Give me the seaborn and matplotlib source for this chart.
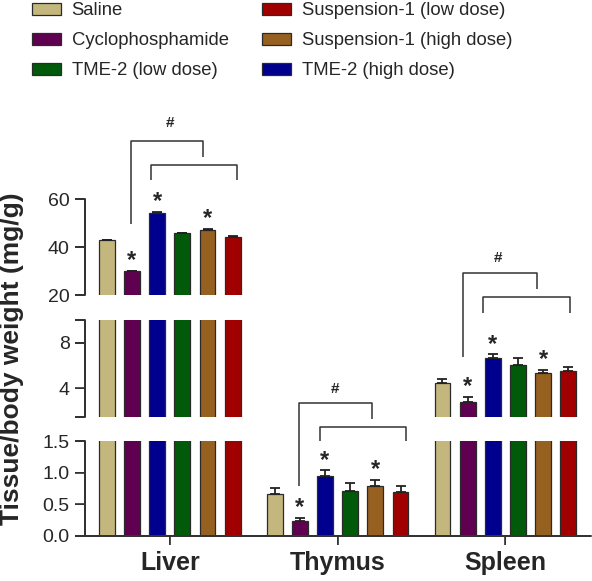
import matplotlib
matplotlib.use("Agg")
import matplotlib.pyplot as plt
import matplotlib.patches as mpatches
import seaborn as sns
import pandas as pd
import numpy as np

sns.set_style("ticks")
plt.rcParams['font.family'] = ['Liberation Sans', 'DejaVu Sans']

organs = ["Liver", "Thymus", "Spleen"]
groups = ["Saline", "Cyclophosphamide", "TME-2 (high dose)", "TME-2 (low dose)",
          "Suspension-1 (high dose)", "Suspension-1 (low dose)"]
colors = ["#C4B77E", "#5F0050", "#00008F", "#005A0A", "#966020", "#A00000"]
legend_order = ["Saline", "Cyclophosphamide", "TME-2 (low dose)",
                "Suspension-1 (low dose)", "Suspension-1 (high dose)", "TME-2 (high dose)"]

liver_mean = [42.8, 29.8, 54.3, 45.7, 47.2, 44.3]
liver_err = [0.3, 0.4, 0.3, 0.3, 0.3, 0.3]
thymus_mean = [0.66, 0.23, 0.95, 0.71, 0.79, 0.69]
thymus_err = [0.10, 0.06, 0.09, 0.12, 0.10, 0.10]
spleen_mean = [4.49, 2.82, 6.63, 6.10, 5.34, 5.52]
spleen_err = [0.30, 0.44, 0.35, 0.55, 0.30, 0.35]
significant = ["Cyclophosphamide", "TME-2 (high dose)", "Suspension-1 (high dose)"]

means = {"Liver": liver_mean, "Thymus": thymus_mean, "Spleen": spleen_mean}
errs = {"Liver": liver_err, "Thymus": thymus_err, "Spleen": spleen_err}

rows = []
for o in organs:
    for g, m, e in zip(groups, means[o], errs[o]):
        rows.append({"organ": o, "group": g, "value": m, "err": e})
df = pd.DataFrame(rows)

W, H = 592, 581
fig = plt.figure(figsize=(W / 100, H / 100), dpi=100)

def ax_rect(top_px, bot_px, left_px=85, right_px=591):
    return [left_px / W, 1 - bot_px / H, (right_px - left_px) / W, (bot_px - top_px) / H]

ax_top = fig.add_axes(ax_rect(199, 295))
ax_mid = fig.add_axes(ax_rect(320, 417))
ax_bot = fig.add_axes(ax_rect(441, 536))
axes = [ax_top, ax_mid, ax_bot]
lims = [(20, 60), (1.5, 10), (0, 1.5)]

xlim = (-0.505, 2.51)
pal = dict(zip(groups, colors))
for ax, lim in zip(axes, lims):
    sns.barplot(data=df, x="organ", y="value", hue="group", order=organs,
                hue_order=groups, palette=pal, width=0.9, gap=0.37,
                errorbar=None, edgecolor="#2a2a2a", linewidth=0.9,
                legend=False, ax=ax, saturation=1)
    ax.set_ylim(*lim)
    ax.set_xlim(*xlim)
    ax.set_xlabel("")
    ax.set_ylabel("")

n = len(groups)
offs = (np.arange(n) - (n - 1) / 2) * 0.15
pos = {}
for i, o in enumerate(organs):
    for j, g in enumerate(groups):
        pos[(o, g)] = i + offs[j]

for ax in axes:
    for o in organs:
        xs = [pos[(o, g)] for g in groups]
        ax.errorbar(xs, means[o], yerr=[np.zeros(n), errs[o]], fmt="none",
                    ecolor="#222222", elinewidth=1.3, capsize=3.3, capthick=1.3,
                    zorder=1)

yticks_top = [20, 40, 60]
yticks_mid = [1.5, 4, 8, 10]
yticks_bot = [0, 0.5, 1.0, 1.5]
ax_top.set_yticks(yticks_top)
ax_mid.set_yticks(yticks_mid)
ax_mid.set_yticklabels(["", "4", "8", ""])
ax_bot.set_yticks(yticks_bot)
ax_bot.set_yticklabels(["0.0", "0.5", "1.0", "1.5"])
ax_bot.set_xticks(range(len(organs)))
ax_bot.set_xticklabels(organs, fontsize=18, fontweight="bold")
for ax in [ax_top, ax_mid]:
    ax.set_xticks([])

AX_C = "#333333"
for ax in axes:
    for s in ["top", "right"]:
        ax.spines[s].set_visible(False)
    ax.spines["left"].set_visible(True)
    ax.spines["left"].set_linewidth(1.2)
    ax.spines["left"].set_color(AX_C)
    ax.spines["left"].set_zorder(10)
    ax.tick_params(axis="y", left=True, length=7, width=1.2, color=AX_C,
                   labelsize=14, pad=4, direction="out")
for ax in [ax_top, ax_mid]:
    ax.spines["bottom"].set_visible(False)
ax_bot.spines["bottom"].set_visible(True)
ax_bot.spines["bottom"].set_linewidth(1.2)
ax_bot.spines["bottom"].set_color(AX_C)
ax_bot.spines["bottom"].set_zorder(10)
ax_bot.tick_params(axis="x", bottom=True, length=6.5, width=1.2, color=AX_C, pad=4)

# asterisks
def ax_for(v):
    if v > 20:
        return ax_top
    if v > 1.5:
        return ax_mid
    return ax_bot

for o in organs:
    for j, g in enumerate(groups):
        if g in significant:
            v = means[o][j] + errs[o][j]
            ax = ax_for(v)
            ax.annotate("*", (pos[(o, g)], v), xytext=(0, -1), textcoords="offset points",
                        ha="center", va="bottom", fontsize=17, fontweight="bold",
                        annotation_clip=False)

# significance brackets
def bracket(ax, x1, x2, yh, yl, yr):
    ax.plot([x1, x1, x2, x2], [yl, yh, yh, yr], color=AX_C, lw=1.1,
            clip_on=False, solid_capstyle="butt")

bracket(ax_top, -0.23, 0.20, 84.2, 49.6, 77.6)
bracket(ax_top, -0.11, 0.40, 74.2, 67.9, 67.9)
ax_top.text(0.0, 91.7, "#", ha="center", va="center", fontsize=11, fontweight="bold")

bracket(ax_bot, 0.768, 1.208, 2.098, 0.797, 1.855)
bracket(ax_bot, 0.893, 1.406, 1.719, 1.5, 1.5)
ax_bot.text(0.982, 2.317, "#", ha="center", va="center", fontsize=11, fontweight="bold",
            clip_on=False)

bracket(ax_mid, 1.749, 2.186, 14.09, 6.77, 12.68)
bracket(ax_mid, 1.869, 2.384, 11.98, 10.63, 10.63)
ax_mid.text(1.958, 15.4, "#", ha="center", va="center", fontsize=11, fontweight="bold",
            clip_on=False)

# y label
fig.text(12 / W, 1 - 359 / H, "Tissue/body weight (mg/g)", rotation=90,
         ha="center", va="center", fontsize=19, fontweight="bold")

# legend
handles = [mpatches.Patch(facecolor=pal[g], edgecolor="#2a2a2a", linewidth=0.9, label=g)
           for g in legend_order]
fig.legend(handles=handles, loc="upper left", bbox_to_anchor=(31 / W, 1 - 1.5 / H),
           ncol=2, frameon=False, fontsize=13.3, handlelength=1.6, handleheight=0.6,
           handletextpad=0.55, columnspacing=1.8, labelspacing=0.7, borderpad=0.05,
           borderaxespad=0)

# axis lines and tick marks as thin filled rectangles (figure pixels)
fig.canvas.draw()
def fig_rect(x0, y0, x1, y1):
    fig.patches.append(mpatches.Rectangle((x0 / W, 1 - y1 / H), (x1 - x0) / W, (y1 - y0) / H,
                                          transform=fig.transFigure, facecolor=AX_C,
                                          edgecolor="none", zorder=30))

lw_px = 1.4
tick_px = 7 * 100 / 72
for ax, yt in zip(axes, [yticks_top, yticks_mid, yticks_bot]):
    bb = ax.get_position()
    xl = bb.x0 * W
    fig_rect(xl - lw_px / 2, (1 - bb.y1) * H, xl + lw_px / 2, (1 - bb.y0) * H)
    for v in yt:
        ypx = H - ax.transData.transform((0, v))[1]
        fig_rect(xl - tick_px, ypx - lw_px / 2, xl, ypx + lw_px / 2)
bbb = ax_bot.get_position()
yb = (1 - bbb.y0) * H
fig_rect(bbb.x0 * W, yb - lw_px / 2, bbb.x1 * W, yb + lw_px / 2)
for i in range(len(organs)):
    xpx = ax_bot.transData.transform((i, 0))[0]
    fig_rect(xpx - lw_px / 2, yb, xpx + lw_px / 2, yb + 6.5 * 100 / 72)

fig.savefig("out.png", dpi=100)
